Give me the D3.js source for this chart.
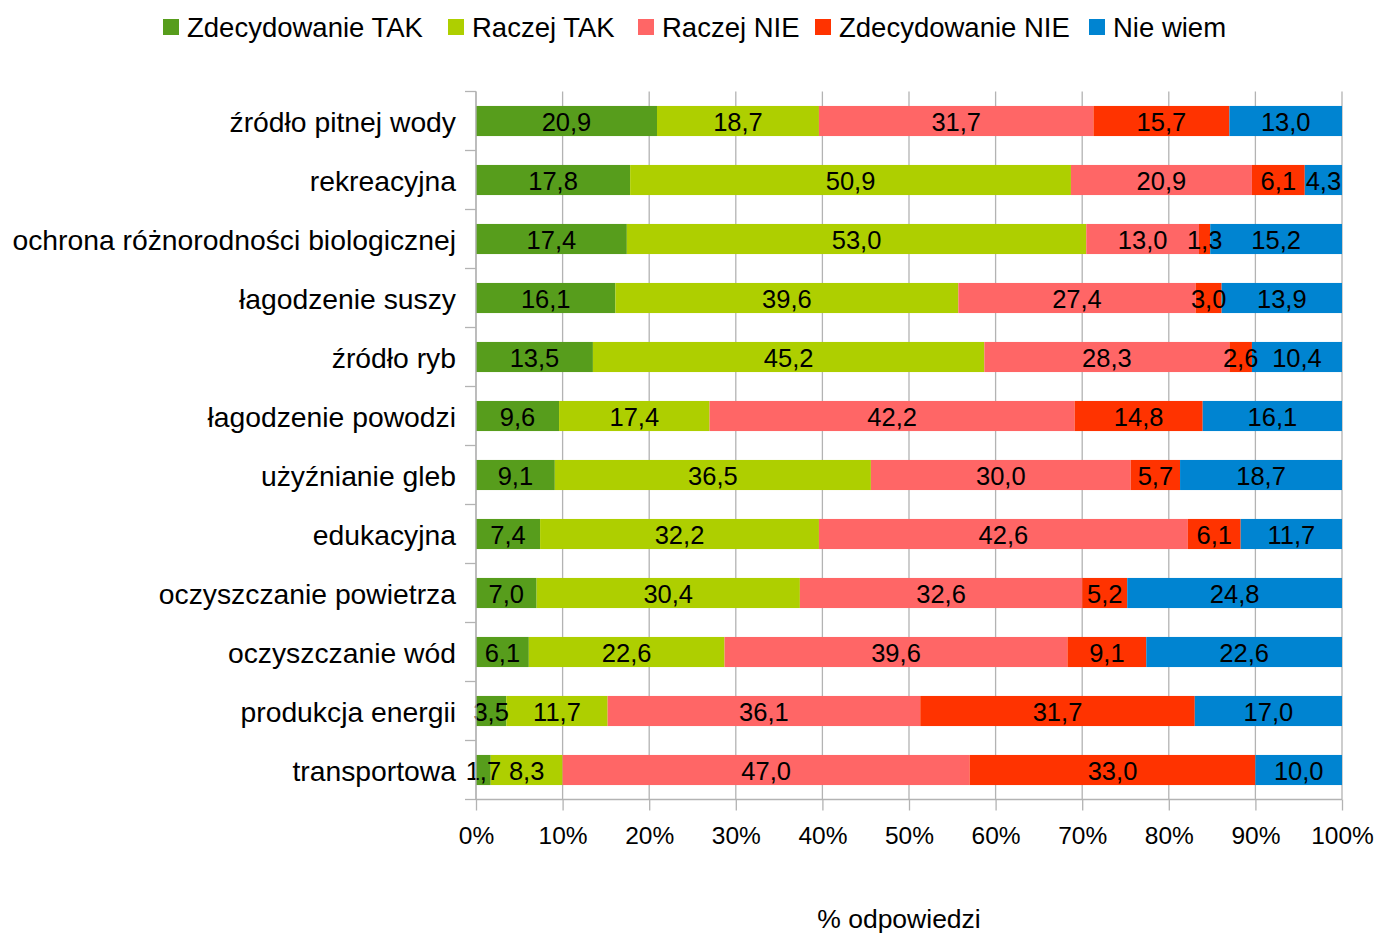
<!DOCTYPE html>
<html>
<head>
<meta charset="utf-8">
<script src="https://cdn.jsdelivr.net/npm/d3@7"></script>
<style>
  body { margin: 0; background: #fff; }
  text { font-family: "Liberation Sans", Arial, sans-serif; fill: #000; }
</style>
</head>
<body>
<svg id="chart" width="1379" height="933"></svg>
<script>
// categories top to bottom
const categories = [
  "źródło pitnej wody",
  "rekreacyjna",
  "ochrona różnorodności biologicznej",
  "łagodzenie suszy",
  "źródło ryb",
  "łagodzenie powodzi",
  "użyźnianie gleb",
  "edukacyjna",
  "oczyszczanie powietrza",
  "oczyszczanie wód",
  "produkcja energii",
  "transportowa"
];
const seriesNames = ["Zdecydowanie TAK", "Raczej TAK", "Raczej NIE", "Zdecydowanie NIE", "Nie wiem"];
const seriesColors = ["#579d1c", "#aecf00", "#ff6666", "#ff3300", "#0084d1"];

const zdecydowanieTak = [20.9, 17.8, 17.4, 16.1, 13.5, 9.6, 9.1, 7.4, 7.0, 6.1, 3.5, 1.7];
const raczejTak       = [18.7, 50.9, 53.0, 39.6, 45.2, 17.4, 36.5, 32.2, 30.4, 22.6, 11.7, 8.3];
const raczejNie       = [31.7, 20.9, 13.0, 27.4, 28.3, 42.2, 30.0, 42.6, 32.6, 39.6, 36.1, 47.0];
const zdecydowanieNie = [15.7, 6.1, 1.3, 3.0, 2.6, 14.8, 5.7, 6.1, 5.2, 9.1, 31.7, 33.0];
const nieWiem         = [13.0, 4.3, 15.2, 13.9, 10.4, 16.1, 18.7, 11.7, 24.8, 22.6, 17.0, 10.0];

const xTicks = [0, 0.1, 0.2, 0.3, 0.4, 0.5, 0.6, 0.7, 0.8, 0.9, 1];

const seriesValues = [zdecydowanieTak, raczejTak, raczejNie, zdecydowanieNie, nieWiem];
const rows = categories.map((c, i) => {
  const r = { cat: c };
  seriesNames.forEach((s, j) => { r[s] = seriesValues[j][i]; });
  return r;
});

const svg = d3.select("#chart");
const plot = { left: 476, right: 1342, top: 91.5, bottom: 799.5 };
const gridColor = "#b3b3b3";

const x = d3.scaleLinear().domain([0, 1]).range([plot.left, plot.right]);
const y = d3.scaleBand().domain(categories).range([plot.top, plot.bottom])
  .paddingInner(0.49).paddingOuter(0.245);
const color = d3.scaleOrdinal().domain(seriesNames).range(seriesColors);

const stacked = d3.stack().keys(seriesNames).offset(d3.stackOffsetExpand)(rows);

// vertical grid lines
svg.append("g")
  .selectAll("line")
  .data(xTicks)
  .join("line")
  .attr("x1", d => x(d)).attr("x2", d => x(d))
  .attr("y1", plot.top).attr("y2", plot.bottom)
  .attr("stroke", gridColor).attr("stroke-width", 1.3);

// bars
const layers = svg.append("g")
  .selectAll("g")
  .data(stacked)
  .join("g")
  .attr("fill", d => color(d.key));

layers.selectAll("rect")
  .data(d => d)
  .join("rect")
  .attr("x", d => x(d[0]))
  .attr("width", d => x(d[1]) - x(d[0]))
  .attr("y", d => y(d.data.cat))
  .attr("height", y.bandwidth());

// value labels
const fmt = v => v.toFixed(1).replace(".", ",");
svg.append("g")
  .selectAll("g")
  .data(stacked)
  .join("g")
  .selectAll("text")
  .data(d => d.map(p => ({ p: p, key: d.key })))
  .join("text")
  .attr("x", d => (x(d.p[0]) + x(d.p[1])) / 2)
  .attr("y", d => y(d.p.data.cat) + y.bandwidth() / 2)
  .attr("dy", "0.38em")
  .attr("text-anchor", "middle")
  .style("font-size", "25.5px")
  .text(d => fmt(d.p.data[d.key]));

// left axis
const yAxis = svg.append("g")
  .attr("transform", `translate(${plot.left},0)`)
  .call(d3.axisLeft(y).tickSize(0).tickPadding(20));
yAxis.select(".domain").attr("stroke", gridColor).attr("stroke-width", 1.3)
  .attr("d", `M0,${plot.top}V${plot.bottom}`);
yAxis.selectAll(".tick text").style("font-size", "28.3px").attr("fill", "#000").attr("dy", "0.38em");

const step = y.step();
svg.append("g")
  .selectAll("line")
  .data(d3.range(categories.length + 1))
  .join("line")
  .attr("x1", plot.left - 11).attr("x2", plot.left)
  .attr("y1", i => plot.top + i * step).attr("y2", i => plot.top + i * step)
  .attr("stroke", gridColor).attr("stroke-width", 1.3);

// bottom axis
const xAxis = svg.append("g")
  .attr("transform", `translate(0,${plot.bottom})`)
  .call(d3.axisBottom(x).tickValues(xTicks).tickFormat(d3.format(".0%")).tickSize(11).tickPadding(16));
xAxis.select(".domain").attr("stroke", gridColor).attr("stroke-width", 1.3)
  .attr("d", `M${plot.left},0H${plot.right}`);
xAxis.selectAll(".tick line").attr("stroke", gridColor).attr("stroke-width", 1.3);
xAxis.selectAll(".tick text").style("font-size", "24.5px").attr("fill", "#000");

svg.append("text")
  .attr("x", 899).attr("y", 918)
  .attr("dy", "0.38em")
  .attr("text-anchor", "middle")
  .style("font-size", "26.5px")
  .text("% odpowiedzi");

// legend
const legendX = [163, 448, 638, 815, 1089];
const legend = svg.append("g")
  .selectAll("g")
  .data(seriesNames)
  .join("g")
  .attr("transform", (d, i) => `translate(${legendX[i]},27)`);
legend.append("rect")
  .attr("x", 0).attr("y", -8).attr("width", 16).attr("height", 16)
  .attr("fill", d => color(d));
legend.append("text")
  .attr("x", 24).attr("dy", "0.38em")
  .style("font-size", "27.5px")
  .text(d => d);
</script>
</body>
</html>
